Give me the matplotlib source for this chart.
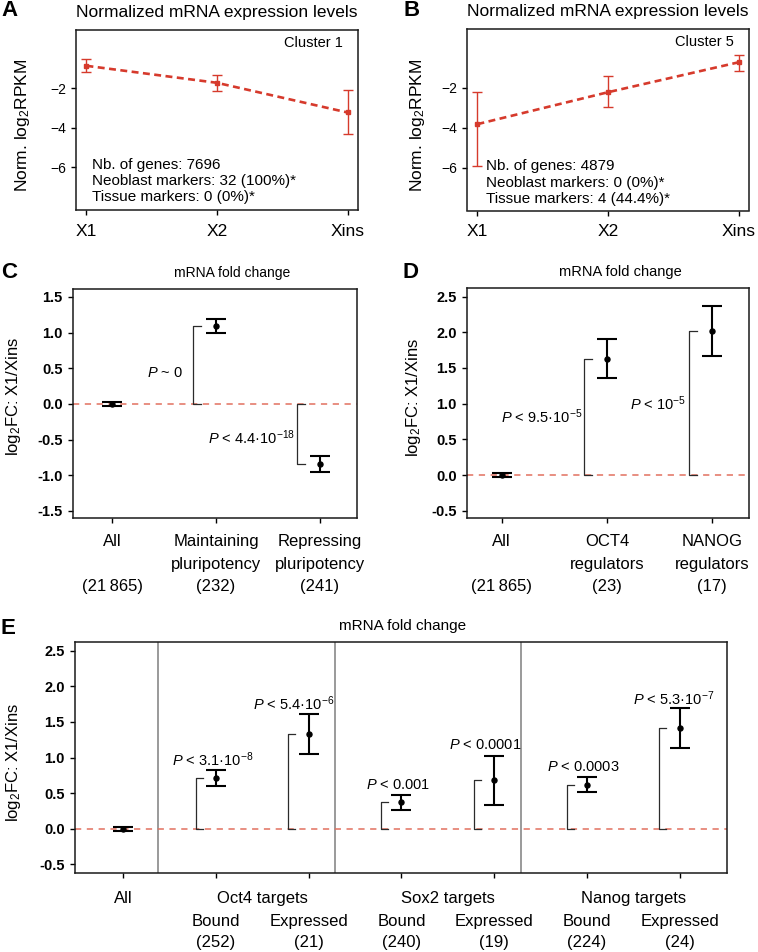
import matplotlib
matplotlib.use("Agg")
import matplotlib.pyplot as plt
import numpy as np

plt.rcParams['font.family'] = ['Liberation Sans', 'DejaVu Sans']
plt.rcParams['mathtext.fontset'] = 'custom'
plt.rcParams['mathtext.rm'] = 'Liberation Sans'
plt.rcParams['mathtext.it'] = 'Liberation Sans:italic'
plt.rcParams['mathtext.bf'] = 'Liberation Sans:bold'
plt.rcParams['lines.scale_dashes'] = False
plt.rcParams['axes.linewidth'] = 1.1
plt.rcParams['xtick.major.width'] = 1.0
plt.rcParams['ytick.major.width'] = 1.0
plt.rcParams['xtick.major.size'] = 3.8
plt.rcParams['ytick.major.size'] = 3.8

# --- A / B : normalized expression per cluster
stages = ['X1', 'X2', 'Xins']
c1_mean = [-0.86, -1.72, -3.22]
c1_lo = [-1.17, -2.14, -4.31]
c1_hi = [-0.54, -1.34, -2.07]
c1_notes = ['Nb. of genes: 7696', 'Neoblast markers: 32 (100%)*', 'Tissue markers: 0 (0%)*']

c5_mean = [-3.82, -2.22, -0.72]
c5_lo = [-5.93, -2.97, -1.15]
c5_hi = [-2.19, -1.40, -0.37]
c5_notes = ['Nb. of genes: 4879', 'Neoblast markers: 0 (0%)*', 'Tissue markers: 4 (44.4%)*']

# --- C : pluripotency gene sets
c_labels = ['All\n\n(21\u2009865)', 'Maintaining\npluripotency\n(232)', 'Repressing\npluripotency\n(241)']
c_mean = [0.0, 1.09, -0.84]
c_err = [0.025, 0.10, 0.11]
c_pvals = [r'$\mathit{P}$ ~ 0', r'$\mathit{P}$ < 4.4·10$^{-18}$']

# --- D : regulators
d_labels = ['All\n\n(21\u2009865)', 'OCT4\nregulators\n(23)', 'NANOG\nregulators\n(17)']
d_mean = [0.0, 1.63, 2.02]
d_err = [0.025, 0.27, 0.35]
d_pvals = [r'$\mathit{P}$ < 9.5·10$^{-5}$', r'$\mathit{P}$ < 10$^{-5}$']

# --- E : targets
e_groups = ['All', 'Oct4 targets', 'Sox2 targets', 'Nanog targets']
e_labels = ['', 'Bound\n(252)', 'Expressed\n(21)', 'Bound\n(240)', 'Expressed\n(19)',
            'Bound\n(224)', 'Expressed\n(24)']
e_mean = [0.0, 0.71, 1.33, 0.37, 0.68, 0.62, 1.42]
e_err = [0.025, 0.11, 0.28, 0.11, 0.34, 0.11, 0.28]
e_pvals = [r'$\mathit{P}$ < 3.1·10$^{-8}$', r'$\mathit{P}$ < 5.4·10$^{-6}$', r'$\mathit{P}$ < 0.001',
           r'$\mathit{P}$ < 0.0001', r'$\mathit{P}$ < 0.0003', r'$\mathit{P}$ < 5.3·10$^{-7}$']

W, H = 758, 952
fig = plt.figure(figsize=(W / 100, H / 100), dpi=100)
fig.patch.set_facecolor('white')


def box(l, t, r, b):
    return fig.add_axes([l / W, 1 - b / H, (r - l) / W, (b - t) / H])


red = '#d63a2c'
zred = '#e2705f'


def expr_panel(ax, mean, lo, hi, cluster, notes, note_x, note_y, ylab_x):
    x = np.arange(1, len(stages) + 1)
    mean = np.array(mean)
    yerr = [mean - np.array(lo), np.array(hi) - mean]
    ax.plot(x, mean, color=red, lw=1.9, dashes=(5, 3.2))
    ax.errorbar(x, mean, yerr=yerr, fmt='s', ms=3.5, color=red, ecolor=red,
                elinewidth=1.0, capsize=3.6, capthick=1.0)
    ax.set_xlim(0.92, 3.08)
    ax.set_ylim(-8.15, 0.95)
    ax.set_xticks(x, stages, fontsize=12.5)
    ax.set_yticks([-2, -4, -6])
    ax.tick_params(axis='y', labelsize=10)
    ax.tick_params(axis='x', pad=6)
    ax.text(0.5, 1.095, 'Normalized mRNA expression levels', transform=ax.transAxes,
            ha='center', va='center', fontsize=12.5)
    ax.text(0.948, 0.928, cluster, transform=ax.transAxes, ha='right', va='center', fontsize=10.5)
    ax.text(note_x, note_y, '\n'.join(notes), transform=ax.transAxes, ha='left', va='center',
            fontsize=11, linespacing=1.22)
    ax.text(ylab_x, 0.47, r'Norm. log$_2$RPKM', transform=ax.transAxes, rotation=90,
            ha='center', va='center', fontsize=12.5)


axA = box(76, 30, 358, 210)
expr_panel(axA, c1_mean, c1_lo, c1_hi, 'Cluster 1', c1_notes, 0.057, 0.161, -0.19)
axB = box(467, 29, 749, 210.5)
expr_panel(axB, c5_mean, c5_lo, c5_hi, 'Cluster 5', c5_notes, 0.068, 0.152, -0.175)


def fc_panel(ax, mean, err, labels, ylim, yticks, title_x, title_fs, ylab_x, ylab_y):
    pos = np.arange(1, len(mean) + 1)
    ax.axhline(0, color=zred, lw=1.1, dashes=(4.5, 4), zorder=1)
    ax.errorbar(pos, mean, yerr=err, fmt='o', ms=3.6, color='black', elinewidth=1.5,
                capsize=7.5, capthick=1.5, zorder=3)
    for x, m in zip(pos[1:], mean[1:]):
        bx = x - 0.22
        ax.plot([bx + 0.075, bx, bx, bx + 0.075], [m, m, 0, 0], color='#2b2b2b', lw=0.9, zorder=2)
    ax.set_ylim(*ylim)
    ax.set_yticks(yticks)
    ax.set_yticklabels(['%.1f' % v for v in yticks])
    for t in ax.get_yticklabels():
        t.set_fontweight('bold')
        t.set_fontsize(10.5)
    ax.set_xticks(pos, labels, fontsize=12)
    for t in ax.get_xticklabels():
        t.set_linespacing(1.6)
    ax.tick_params(axis='x', pad=8)
    ax.text(title_x, 1.07, 'mRNA fold change', transform=ax.transAxes, ha='center',
            va='center', fontsize=title_fs)
    ax.text(ylab_x, ylab_y, r'log$_2$FC: X1/Xins', transform=ax.transAxes, rotation=90,
            ha='center', va='center', fontsize=12)
    return pos


axC = box(73, 289, 357, 518)
posC = fc_panel(axC, c_mean, c_err, c_labels, (-1.6, 1.61),
                [1.5, 1.0, 0.5, 0.0, -0.5, -1.0, -1.5], 0.559, 10, -0.21, 0.533)
axC.set_xlim(0.62, 3.36)
axC.text(1.68, 0.43, c_pvals[0], ha='right', va='center', fontsize=10.5)
axC.text(2.76, -0.47, c_pvals[1], ha='right', va='center', fontsize=10.5)

axD = box(467, 288, 749, 518)
posD = fc_panel(axD, d_mean, d_err, d_labels, (-0.6, 2.62),
                [2.5, 2.0, 1.5, 1.0, 0.5, 0.0, -0.5], 0.545, 10.5, -0.19, 0.526)
axD.set_xlim(0.67, 3.35)
axD.text(1.765, 0.82, d_pvals[0], ha='right', va='center', fontsize=10.5)
axD.text(2.755, 1.0, d_pvals[1], ha='right', va='center', fontsize=10.5)

axE = box(75, 642, 727, 873)
posE = fc_panel(axE, e_mean, e_err, e_labels, (-0.62, 2.62),
                [2.5, 2.0, 1.5, 1.0, 0.5, 0.0, -0.5], 0.503, 11, -0.095, 0.48)
axE.set_xlim(0.48, 7.51)
for t in axE.get_xticklabels():
    t.set_linespacing(1.5)
axE.tick_params(axis='x', which='major', pad=26)
for sx in [1.37, 3.28, 5.29]:
    axE.axvline(sx, color='#9a9a9a', lw=1.4, zorder=0)
axE.xaxis.remove_overlapping_locs = False
axE.set_xticks([1, 2.5, 4.5, 6.5], e_groups, minor=True, fontsize=12)
axE.tick_params(axis='x', which='minor', length=0, pad=3.8 + 9.5)
p_x = [1.96, 2.84, 3.96, 4.9, 5.96, 6.93]
p_y = [0.97, 1.76, 0.61, 1.17, 0.86, 1.82]
for x, y, s in zip(p_x, p_y, e_pvals):
    axE.text(x, y, s, ha='center', va='center', fontsize=10.5)

for ax in [axA, axB, axC, axD, axE]:
    for sp in ax.spines.values():
        sp.set_color('#1a1a1a')

for letter, x, y in [('A', 10, 11), ('B', 412, 11), ('C', 9, 272), ('D', 410, 272), ('E', 8, 628)]:
    fig.text(x / W, 1 - y / H, letter, fontsize=16, fontweight='bold', ha='center', va='center')

fig.savefig('out.png', dpi=100, facecolor='white')
